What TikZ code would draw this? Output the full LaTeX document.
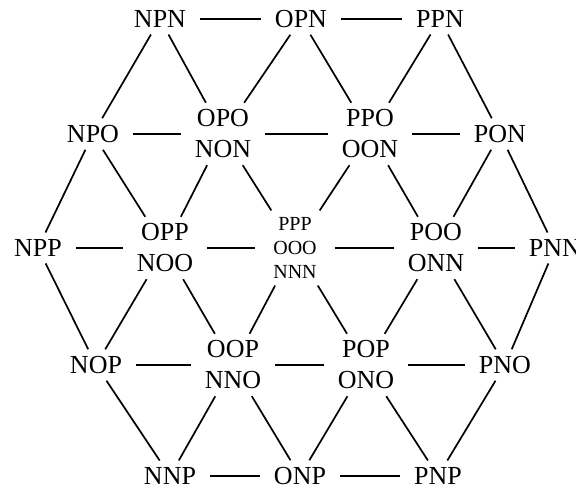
\documentclass[tikz,border=0pt]{standalone}
\usepackage{fontspec}
\setmainfont{Liberation Serif}
\begin{document}
\begin{tikzpicture}[x=1pt,y=-1pt,
  lab/.style={font=\fontsize{26}{31}\selectfont, align=center, inner xsep=14pt, inner ysep=7pt, outer sep=0pt},
  smalllab/.style={font=\fontsize{20}{24}\selectfont, inner xsep=18pt},
  edge/.style={line width=1.7pt}]
\useasboundingbox (0,0) rectangle (576,490);
% row 1
\node[lab] (NPN) at (160,19) {NPN};
\node[lab] (OPN) at (301,19) {OPN};
\node[lab] (PPN) at (440,19) {PPN};
% row 2
\node[lab] (NPO) at (93,134) {NPO};
\node[lab] (OPO) at (223,134) {OPO\\NON};
\node[lab] (PPO) at (370,134) {PPO\\OON};
\node[lab] (PON) at (500,134) {PON};
% row 3
\node[lab] (NPP) at (38,248) {NPP};
\node[lab] (OPP) at (165,248) {OPP\\NOO};
\node[lab,smalllab] (PPP) at (295,248) {PPP\\OOO\\NNN};
\node[lab] (POO) at (436,248) {POO\\ONN};
\node[lab] (PNN) at (555,248) {PNN};
% row 4
\node[lab] (NOP) at (96,365) {NOP};
\node[lab] (OOP) at (233,365) {OOP\\NNO};
\node[lab] (POP) at (366,365) {POP\\ONO};
\node[lab] (PNO) at (505,365) {PNO};
% row 5
\node[lab] (NNP) at (170,476) {NNP};
\node[lab] (ONP) at (300,476) {ONP};
\node[lab] (PNP) at (438,476) {PNP};
% horizontal edges
\foreach \a/\b in {NPN/OPN, OPN/PPN, NPO/OPO, OPO/PPO, PPO/PON,
  NPP/OPP, OPP/PPP, PPP/POO, POO/PNN, NOP/OOP, OOP/POP, POP/PNO,
  NNP/ONP, ONP/PNP}
  \draw[edge] (\a) -- (\b);
% diagonal edges
\foreach \a/\b in {NPN/NPO, NPN/OPO, OPN/OPO, OPN/PPO, PPN/PPO, PPN/PON,
  NPO/NPP, NPO/OPP, OPO/OPP, OPO/PPP, PPO/PPP, PPO/POO, PON/POO, PON/PNN,
  NPP/NOP, OPP/NOP, OPP/OOP, PPP/OOP, PPP/POP, POO/POP, POO/PNO, PNN/PNO,
  NOP/NNP, OOP/NNP, OOP/ONP, POP/ONP, POP/PNP, PNO/PNP}
  \draw[edge] (\a) -- (\b);
\end{tikzpicture}
\end{document}
